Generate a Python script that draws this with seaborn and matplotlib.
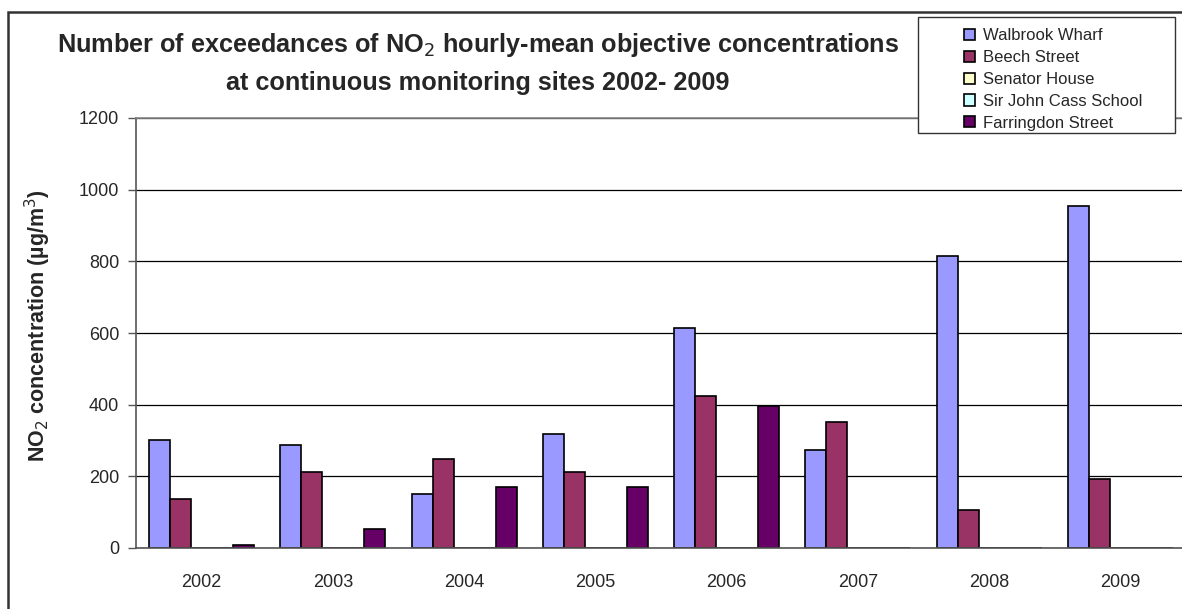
import matplotlib
matplotlib.use("Agg")
import matplotlib.pyplot as plt
import seaborn as sns
import pandas as pd
from matplotlib.patches import Rectangle

sns.set_style("white")
plt.rcParams['font.family'] = ['Liberation Sans', 'DejaVu Sans']

# data
years = ['2002', '2003', '2004', '2005', '2006', '2007', '2008', '2009']
sites = ['Walbrook Wharf', 'Beech Street', 'Senator House', 'Sir John Cass School', 'Farringdon Street']
walbrook = [302, 287, 150, 319, 613, 274, 815, 955]
beech = [136, 213, 247, 213, 423, 351, 105, 192]
senator = [0, 0, 0, 0, 0, 0, 0, 0]
sir_john_cass = [0, 0, 0, 0, 0, 0, 0, 0]
farringdon = [9, 54, 169, 169, 395, 0, 0, 0]
site_colours = ['#9999FF', '#993366', '#FFFFCC', '#CCFFFF', '#660066']

# long format table for seaborn
rows = []
for site, vals in zip(sites, [walbrook, beech, senator, sir_john_cass, farringdon]):
    for yr, v in zip(years, vals):
        rows.append({'year': yr, 'site': site, 'value': v})
df = pd.DataFrame(rows)

W, H = 1182, 609
fig = plt.figure(figsize=(W / 100, H / 100), dpi=100)
# axes run past the right edge like the clipped original
ax = fig.add_axes([136 / W, 61 / H, 1050 / W, 430 / H])

sns.barplot(data=df, x='year', y='value', hue='site', order=years, hue_order=sites,
            palette=site_colours, saturation=1, edgecolor='black', linewidth=1.2, width=0.8,
            ax=ax, legend=True)

ax.set_ylim(0, 1200)
ax.set_xlim(-0.5, len(years) - 0.5)
ax.set_yticks(range(0, 1201, 200))
ax.yaxis.grid(True, color='black', linewidth=0.9)
ax.set_axisbelow(True)
for s in ['left', 'bottom', 'top']:
    ax.spines[s].set_color('#555555')
    ax.spines[s].set_linewidth(1.2)
ax.spines['top'].set_color('#888888')
ax.spines['right'].set_visible(False)

# ticks between the year groups
ax.set_xticks([i - 0.5 for i in range(len(years) + 1)], minor=True)
ax.tick_params(axis='x', which='major', length=0, labelsize=13, pad=19)
ax.tick_params(axis='x', which='minor', length=6, width=1, color='#555555', direction='out')
ax.tick_params(axis='y', length=6, width=1, color='#555555', direction='out', labelsize=13,
               left=True, pad=6)
ax.set_xlabel('')
ax.set_ylabel('NO$_2$ concentration (µg/m$^3$)', fontsize=15.5, fontweight='bold')
ax.yaxis.set_label_coords((53 - 136) / 1050, (548 - 326) / 430)

# title in two lines
fig.text(478 / W, 1 - 45 / H, 'Number of exceedances of NO$_2$ hourly-mean objective concentrations',
         ha='center', va='center', fontsize=18.2, fontweight='bold')
fig.text(478 / W, 1 - 83 / H, 'at continuous monitoring sites 2002- 2009',
         ha='center', va='center', fontsize=18.2, fontweight='bold')

# outer chart border (left and top visible)
fig.patches.append(Rectangle((8 / W, -0.1), 1.2, 1 - 12 / H + 0.1, transform=fig.transFigure,
                             fill=False, edgecolor='#333333', linewidth=1.8))

# legend box, covers the top of the plot area
fig.patches.append(Rectangle((918 / W, 1 - 133 / H), (1175 - 918) / W, (133 - 17) / H,
                             transform=fig.transFigure, facecolor='white',
                             edgecolor='#333333', linewidth=1, zorder=5))
handles, labels = ax.get_legend_handles_labels()
ax.get_legend().remove()
leg = fig.legend(handles, labels, loc='upper left', bbox_to_anchor=(956 / W, 1 - 20 / H),
                 frameon=False, fontsize=12, handlelength=0.65, handleheight=0.65,
                 handletextpad=0.5, labelspacing=0.41, borderpad=0)
leg.set_zorder(6)

fig.savefig('out.png', dpi=100)
